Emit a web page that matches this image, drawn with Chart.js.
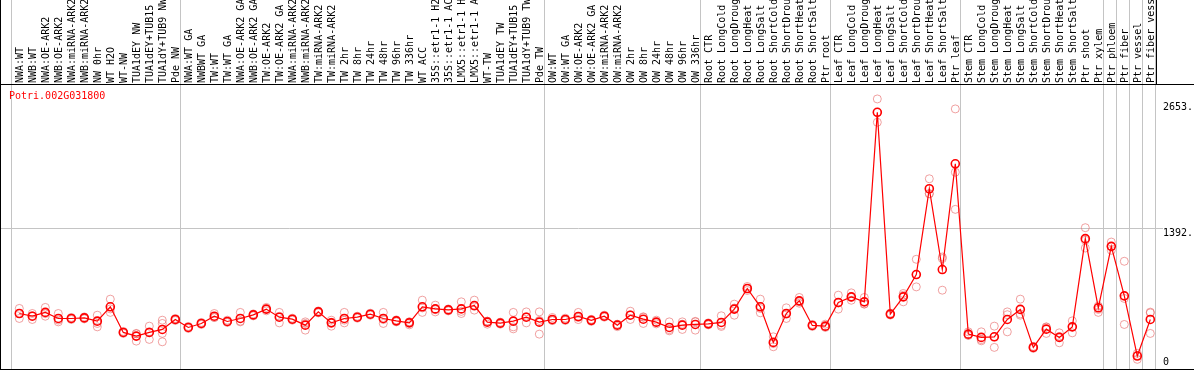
<!DOCTYPE html>
<html>
<head>
<meta charset="utf-8">
<script src="https://cdn.jsdelivr.net/npm/chart.js@4.4.1/dist/chart.umd.min.js"></script>
<style>
  html, body { margin: 0; padding: 0; background: #fff; }
  #wrap { position: relative; width: 1194px; height: 370px; overflow: hidden; }
  .rule { position: absolute; background: #000; }
  #title { position: absolute; left: 9px; top: 90px; color: #f00; font: 10px "DejaVu Sans Mono", monospace; }
</style>
</head>
<body>
<div id="wrap">
  <canvas id="chart" width="1194" height="370"></canvas>
  <div class="rule" style="left:0;top:0;width:1px;height:370px"></div>
  <div class="rule" style="left:0;top:369px;width:1194px;height:1px"></div>
  <div class="rule" style="left:0;top:84px;width:1194px;height:1px"></div>
  <div class="rule" style="left:1156px;top:0;width:1px;height:84px"></div>
  <div id="title">Potri.002G031800</div>
</div>
<script>
const labels = [
  "NWA:WT","NWB:WT","NWA:OE-ARK2","NWB:OE-ARK2","NWA:miRNA-ARK2","NWB:miRNA-ARK2","NW 0hr","WT H2O","WT-NW",
  "TUA1dEY NW","TUA1dEY+TUB15","TUA1dY+TUB9 NW","Pde NW",
  "NWA:WT GA","NWBWT GA","TW:WT","TW:WT GA","NWA:OE-ARK2 GA","NWB:OE-ARK2 GA","TW:OE-ARK2","TW:OE-ARK2 GA",
  "NWA:miRNA-ARK2","NWB:miRNA-ARK2","TW:miRNA-ARK2","TW:miRNA-ARK2","TW 2hr","TW 8hr","TW 24hr","TW 48hr","TW 96hr",
  "TW 336hr","WT ACC","35S::etr1-1 H2","35S::etr1-1 AC","LMX5::etr1-1 H","LMX5::etr1-1 A","WT-TW","TUA1dEY TW",
  "TUA1dEY+TUB15","TUA1dY+TUB9 TW","Pde TW",
  "OW:WT","OW:WT GA","OW:OE-ARK2","OW:OE-ARK2 GA","OW:miRNA-ARK2","OW:miRNA-ARK2","OW 2hr","OW 8hr","OW 24hr",
  "OW 48hr","OW 96hr","OW 336hr",
  "Root CTR","Root LongCold","Root LongDroug","Root LongHeat","Root LongSalt","Root ShortCold","Root ShortDrou",
  "Root ShortHeat","Root ShortSalt","Ptr root",
  "Leaf CTR","Leaf LongCold","Leaf LongDroug","Leaf LongHeat","Leaf LongSalt","Leaf ShortCold","Leaf ShortDrou",
  "Leaf ShortHeat","Leaf ShortSalt","Ptr leaf",
  "Stem CTR","Stem LongCold","Stem LongDroug","Stem LongHeat","Stem LongSalt","Stem ShortCold","Stem ShortDrou",
  "Stem ShortHeat","Stem ShortSalt","Ptr shoot","Ptr xylem",
  "Ptr phloem","Ptr fiber","Ptr vessel","Ptr fiber vess"
];

const means = [
  537,510,548,487,487,493,460,604,347,310,347,377,477,
  397,437,510,457,487,523,581,500,480,420,553,443,487,500,530,487,463,443,604,583,573,583,617,450,440,460,500,450,
  477,477,507,468,510,420,520,480,450,397,420,427,
  433,447,581,788,604,247,537,664,417,410,
  648,704,654,2556,531,704,928,1789,978,2039,
  330,297,303,477,578,197,380,297,403,1288,594,
  1211,714,110,477
];

const replicates = [
  [588,487,537],[537,477,515],[598,510,536],[537,453,471],[497,477,487],[503,483,493],[520,437,403],[681,548,583],
  [357,337,347],[337,260,333],[410,277,354],[470,437,337,253],[487,467,477],
  [407,387,397],[447,427,437],[537,497,497],[470,447,454],[548,453,460],[533,513,523],[598,581,564],[548,443,509],
  [490,470,480],[437,370,453],[563,543,553],[470,410,449],[548,443,470],[510,490,500],[540,520,530],[548,437,476],
  [473,453,463],[453,423,453],[671,548,593],[621,553,575],[583,563,573],[654,537,558],[671,571,609],[460,430,460],
  [450,430,440],[548,403,383],[553,443,504],[553,330,467],
  [497,467,467],[490,467,474],[548,497,476],[478,458,468],[520,500,510],[430,405,425],[560,477,523],[504,437,499],
  [470,433,447],[453,363,375],[453,377,430],[453,370,458],
  [443,423,433],[514,420,407],[631,520,592],[808,768,788],[681,544,587],[303,203,235],[594,487,530],[698,654,640],
  [427,407,417],[430,397,403],
  [721,581,642],[744,698,670],[698,631,633],[2690,2556,2456],[541,521,531],[738,654,720],[1081,928,804],
  [1889,1739,1739],[1104,1088,771],[2590,1955,1582],
  [353,320,317],[353,263,275],[410,197,302],[553,353,525],[681,520,533],[207,187,197],[403,337,400],[343,243,305],
  [463,343,403],[1398,1194,1272],[612,578,548],
  [1254,1171,1208],[1061,688,427],[77,137,116],[551,543,337]
];

// index where each sample group starts (plus the end)
const groupStarts = [0, 13, 41, 53, 63, 73, 84, 85, 86, 87, 88];

const yTicks = [0, 1392, 2653];
const yTickLabels = [["0", ""], "1392.", "2653."];

const monoFont = { family: "'DejaVu Sans Mono', monospace", size: 10, lineHeight: 2 };
const Y_MIN = -30, Y_MAX = 2840;

const meanPoints = means.map((v, i) => ({ x: i, y: v }));
const repPoints = [];
replicates.forEach((reps, i) => reps.forEach(v => repPoints.push({ x: i, y: v })));

const ctx = document.getElementById('chart').getContext('2d');
new Chart(ctx, {
  type: 'line',
  data: {
    datasets: [{
      label: 'mean',
      data: meanPoints,
      borderColor: '#ff0000',
      borderWidth: 1.2,
      pointRadius: 4,
      pointBorderWidth: 1.6,
      pointBorderColor: '#ff0000',
      pointBackgroundColor: 'rgba(0,0,0,0)',
      tension: 0,
      order: 0
    }, {
      label: 'replicates',
      type: 'scatter',
      data: repPoints,
      showLine: false,
      pointRadius: 4,
      pointBorderWidth: 1,
      pointBorderColor: 'rgba(232,110,110,0.65)',
      pointBackgroundColor: 'rgba(0,0,0,0)',
      order: 1
    }]
  },
  options: {
    responsive: false,
    animation: false,
    events: [],
    layout: { padding: 0, autoPadding: false },
    plugins: { legend: { display: false }, tooltip: { enabled: false } },
    scales: {
      x: {
        type: 'linear',
        position: 'top',
        min: -1.485,
        max: 87.515,
        afterFit: (scale) => {
          scale.height = 84;
          scale.paddingLeft = 0;
          scale.paddingRight = 0;
        },
        afterBuildTicks: (scale) => {
          const t = labels.map((_, i) => i).concat(groupStarts.map(k => k - 0.62));
          t.sort((a, b) => a - b);
          scale.ticks = t.map(v => ({ value: v }));
        },
        border: { display: false },
        grid: {
          color: (c) => (c.tick && Number.isInteger(c.tick.value)) ? 'rgba(0,0,0,0)' : '#c4c4c4',
          lineWidth: 1,
          tickLength: 84
        },
        ticks: {
          autoSkip: false,
          minRotation: 90,
          maxRotation: 90,
          padding: -83,
          labelOffset: 13,
          color: '#000',
          font: { family: monoFont.family, size: 10 },
          callback: (v) => Number.isInteger(v) ? labels[v] : ''
        }
      },
      y: {
        type: 'linear',
        position: 'right',
        min: Y_MIN,
        max: Y_MAX,
        afterFit: (scale) => {
          scale.width = 37;
          scale.paddingTop = 0;
          scale.paddingBottom = 0;
        },
        afterBuildTicks: (scale) => { scale.ticks = yTicks.map(v => ({ value: v })); },
        border: { display: false },
        grid: {
          color: (c) => (c.tick && c.tick.value === 1392) ? '#c4c4c4' : 'rgba(0,0,0,0)',
          tickLength: 6
        },
        ticks: {
          padding: 0,
          labelOffset: 5,
          color: '#000',
          font: monoFont,
          callback: (v) => yTickLabels[yTicks.indexOf(v)]
        }
      }
    }
  }
});
</script>
</body>
</html>
